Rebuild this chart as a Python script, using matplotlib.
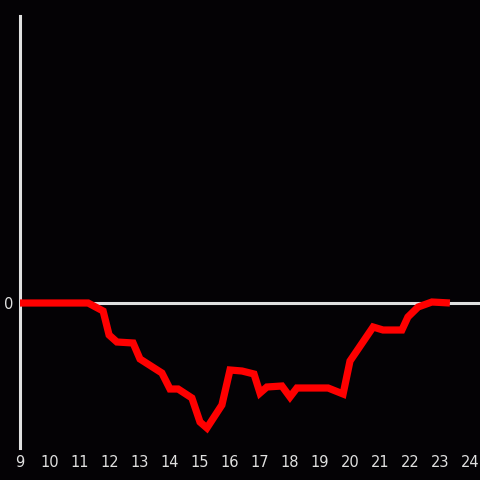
import matplotlib
matplotlib.use("Agg")
import matplotlib.pyplot as plt

hours = [9.0, 11.27, 11.77, 11.97, 12.23, 12.77, 13.0, 13.73, 14.0, 14.27, 14.73,
         15.0, 15.23, 15.73, 16.0, 16.4, 16.8, 17.0, 17.23, 17.73, 18.0, 18.23,
         19.27, 19.77, 20.0, 20.77, 21.1, 21.73, 21.93, 22.27, 22.73, 23.33]
values = [0.0, 0.0, -0.8, -3.2, -3.9, -4.0, -5.6, -7.0, -8.6, -8.6, -9.5,
          -11.9, -12.5, -10.2, -6.7, -6.8, -7.1, -9.0, -8.4, -8.3, -9.4, -8.5,
          -8.5, -9.1, -5.8, -2.4, -2.7, -2.7, -1.4, -0.4, 0.1, 0.0]
xticks = list(range(9, 25))
yticks = [0]

bg = "#040205"
fg = "#e0e0e0"

fig = plt.figure(figsize=(4.8, 4.8), dpi=100, facecolor=bg)
ax = fig.add_axes([20/480, 32/480, 460/480, 432/480], facecolor=bg)

ax.axhline(0, color=fg, lw=2.2, zorder=1)
ax.plot(hours, values, color="#ff0000", lw=5.2, solid_joinstyle="miter",
        solid_capstyle="butt", zorder=3)

ax.set_xlim(9, 24 + 10/30)
ax.set_ylim(-14.5, 28.7)
ax.set_xticks(xticks)
ax.set_yticks(yticks)
ax.tick_params(length=0, colors=fg, labelsize=10.5, pad=5)
for s in ["top", "right", "bottom"]:
    ax.spines[s].set_visible(False)
ax.spines["left"].set_color(fg)
ax.spines["left"].set_linewidth(2.2)

fig.savefig("out.png", dpi=100, facecolor=bg)
